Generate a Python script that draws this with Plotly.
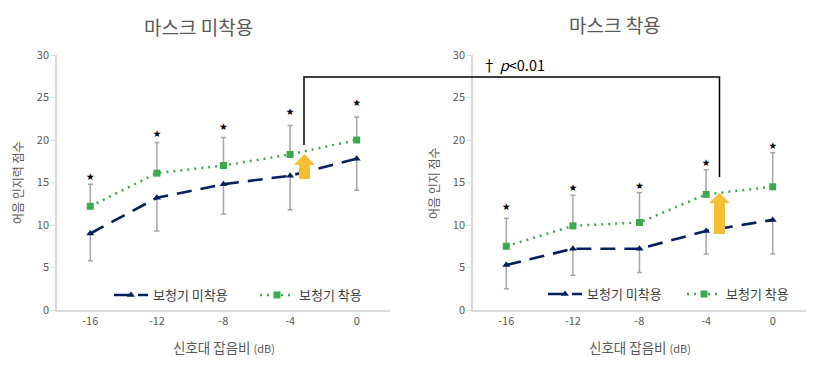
import plotly.graph_objects as go

W, H = 833, 387
snr = ["-16", "-12", "-8", "-4", "0"]

left_off = [9.0, 13.2, 14.8, 15.8, 17.8]
left_off_err = [3.2, 3.9, 3.5, 4.0, 3.7]
left_on = [12.2, 16.1, 17.0, 18.3, 20.0]
left_on_err = [2.6, 3.6, 3.3, 3.4, 2.7]
left_star = [15.6, 20.6, 21.5, 23.2, 24.3]

right_off = [5.3, 7.2, 7.2, 9.3, 10.6]
right_off_err = [2.8, 3.1, 2.8, 2.7, 4.0]
right_on = [7.5, 9.9, 10.3, 13.6, 14.5]
right_on_err = [3.3, 3.6, 3.5, 2.9, 4.0]
right_star = [12.1, 14.3, 14.5, 17.2, 19.2]

NAVY = "#002060"
GREEN = "#3DAA50"
GREY = "#A6A6A6"
TXT = "#595959"
AMBER = "#F7BE33"
FONT = "Noto Sans CJK KR, Noto Sans, sans-serif"
NAME_OFF = "보청기 미착용"
NAME_ON = "보청기 착용"

fig = go.Figure()


def add_panel(xa, ya, off, off_err, on, on_err, stars, legend):
    fig.add_trace(go.Scatter(
        x=snr, y=off, name=NAME_OFF, xaxis=xa, yaxis=ya, legend=legend,
        mode="lines+markers",
        line=dict(color=NAVY, width=2.6, dash="15px,9px"),
        marker=dict(symbol="triangle-up", size=7, color=NAVY),
        error_y=dict(type="data", symmetric=False, array=[0] * 5, arrayminus=off_err,
                     color=GREY, thickness=1.5, width=2.5),
    ))
    fig.add_trace(go.Scatter(
        x=snr, y=on, name=NAME_ON, xaxis=xa, yaxis=ya, legend=legend,
        mode="lines+markers",
        line=dict(color=GREEN, width=2.5, dash="2px,5px"),
        marker=dict(symbol="square", size=7, color=GREEN),
        error_y=dict(type="data", symmetric=False, array=on_err, arrayminus=[0] * 5,
                     color=GREY, thickness=1.5, width=2.5),
    ))
    fig.add_trace(go.Scatter(
        x=snr, y=stars, xaxis=xa, yaxis=ya, mode="text", text=["★"] * 5,
        textfont=dict(size=9.5, color="#000000", family="DejaVu Sans"),
        textposition="middle center", showlegend=False, hoverinfo="skip",
    ))


add_panel("x", "y", left_off, left_off_err, left_on, left_on_err, left_star, "legend")
add_panel("x2", "y2", right_off, right_off_err, right_on, right_on_err, right_star, "legend2")


def px(x):
    return x / W


def py(y):
    return 1 - y / H


def xaxis(l, r, anchor):
    return dict(domain=[px(l), px(r)], anchor=anchor, type="category",
                categoryorder="array", categoryarray=snr, range=[-0.5, 4.5],
                showgrid=False, zeroline=False, showline=True,
                linecolor="#D9D9D9", linewidth=1.5, ticks="",
                tickfont=dict(size=11, color=TXT, family=FONT))


def yaxis(anchor):
    return dict(domain=[py(310), py(55)], anchor=anchor, range=[0, 30], dtick=5,
                showgrid=False, zeroline=False, showline=True,
                linecolor="#D9D9D9", linewidth=1.5, ticks="outside", ticklen=4,
                tickcolor="#D9D9D9", tickfont=dict(size=11, color=TXT, family=FONT))


def arrow(l, r, sl, sr, top, head, bottom):
    mid = (l + r) / 2
    pts = [(mid, top), (r, head), (sr, head), (sr, bottom), (sl, bottom), (sl, head), (l, head)]
    path = "M " + " L ".join(f"{px(a):.5f} {py(b):.5f}" for a, b in pts) + " Z"
    return dict(type="path", xref="paper", yref="paper", path=path,
                fillcolor=AMBER, line=dict(width=0))


bracket = [(304, 145), (304, 77), (719.5, 77), (719.5, 177)]
bracket_path = "M " + " L ".join(f"{px(a):.5f} {py(b):.5f}" for a, b in bracket)


def label(x, y, text, size, color=TXT, angle=0, xanchor="center"):
    return dict(xref="paper", yref="paper", x=px(x), y=py(y), text=text, showarrow=False,
                xanchor=xanchor, yanchor="middle", textangle=angle,
                font=dict(size=size, color=color, family=FONT))


fig.update_layout(
    width=W, height=H, paper_bgcolor="white", plot_bgcolor="white",
    margin=dict(l=0, r=0, t=0, b=0, autoexpand=False),
    font=dict(family=FONT, color=TXT),
    xaxis=xaxis(57, 390, "y"), yaxis=yaxis("x"),
    xaxis2=xaxis(473, 806, "y2"), yaxis2=yaxis("x2"),
    legend=dict(orientation="h", x=px(109), y=py(295), xanchor="left", yanchor="middle",
                bgcolor="rgba(0,0,0,0)", font=dict(size=13, color="#404040", family=FONT),
                entrywidth=97, entrywidthmode="pixels", itemwidth=34),
    legend2=dict(orientation="h", x=px(543), y=py(294), xanchor="left", yanchor="middle",
                 bgcolor="rgba(0,0,0,0)", font=dict(size=13, color="#404040", family=FONT),
                 entrywidth=90, entrywidthmode="pixels", itemwidth=34),
    shapes=[
        dict(type="path", xref="paper", yref="paper", path=bracket_path,
             line=dict(color="#000000", width=1.5)),
        arrow(294, 315, 299, 310, 154, 165, 179),
        arrow(709, 730, 714, 725, 193, 203, 234),
    ],
    annotations=[
        label(198, 26, "마스크 미착용", 19),
        label(615, 25, "마스크 착용", 19),
        label(224, 347, "신호대 잡음비 <span style='font-size:11px'>(dB)</span>", 13.5),
        label(640, 347, "신호대 잡음비 <span style='font-size:11px'>(dB)</span>", 13.5),
        label(18, 183, "어음 인지력 점수", 12, angle=-90),
        label(434, 183, "어음 인지 점수", 12, angle=-90),
        label(480, 64, "† <i>p</i>&lt;0.01", 14.5, color="#000000", xanchor="left"),
    ],
)

fig.write_html("out.html", config={"displayModeBar": False},
               post_script="document.body.style.margin='0';")
